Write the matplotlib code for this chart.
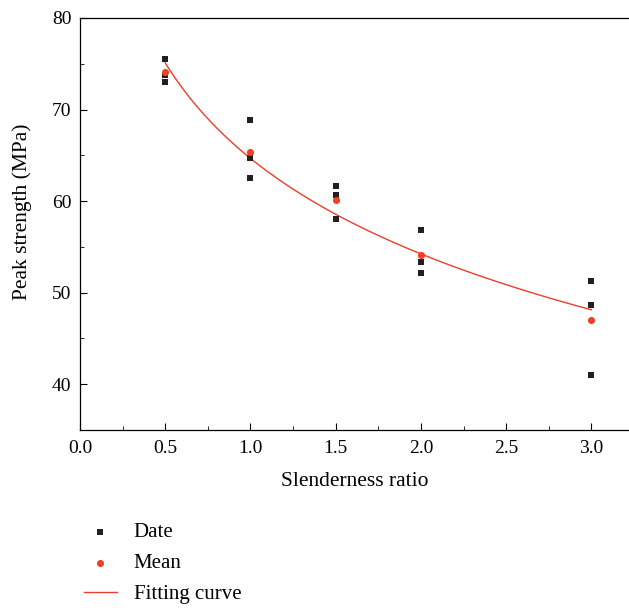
import numpy as np
import matplotlib.pyplot as plt
from matplotlib.ticker import MultipleLocator

plt.rcParams['font.family'] = ['Liberation Serif', 'DejaVu Serif']

# slenderness ratio and measured peak strength (three specimens each)
ratio = [0.5, 0.5, 0.5, 1.0, 1.0, 1.0, 1.5, 1.5, 1.5, 2.0, 2.0, 2.0, 3.0, 3.0, 3.0]
strength = [75.5, 73.8, 73.0, 68.9, 64.7, 62.5, 61.6, 60.7, 58.0,
            56.8, 53.3, 52.2, 51.3, 48.6, 41.0]

ratio_mean = [0.5, 1.0, 1.5, 2.0, 3.0]
strength_mean = [74.1, 65.4, 60.1, 54.1, 47.0]

# logarithmic fit y = a + b*ln(x)
b, a = np.polyfit(np.log(ratio_mean), strength_mean, 1)
xf = np.linspace(0.5, 3.0, 200)
yf = a + b * np.log(xf)

fig = plt.figure(figsize=(6.29, 6.08), dpi=100)
ax = fig.add_axes([0.127, 0.2928, 0.873, 0.6776])

ax.scatter(ratio, strength, marker='s', s=22, color='#231f20', label='Date', zorder=3, linewidths=0)
ax.scatter(ratio_mean, strength_mean, marker='o', s=26, color='#ee4023', label='Mean', zorder=4, linewidths=0)
ax.plot(xf, yf, color='#ee3d2a', lw=1.0, label='Fitting curve', zorder=2)

ax.set_xlim(0, 3.22)
ax.set_ylim(35, 80)
ax.xaxis.set_major_locator(MultipleLocator(0.5))
ax.xaxis.set_minor_locator(MultipleLocator(0.25))
ax.yaxis.set_major_locator(MultipleLocator(10))
ax.yaxis.set_minor_locator(MultipleLocator(5))
ax.xaxis.set_major_formatter(plt.FormatStrFormatter('%.1f'))

ax.tick_params(axis='both', which='both', direction='in', labelsize=14)
ax.tick_params(axis='x', which='both', pad=7)
ax.tick_params(axis='y', which='both', pad=6)
ax.tick_params(which='major', length=5)
ax.tick_params(which='minor', length=3)
ax.spines['right'].set_visible(False)
for s in ['left', 'bottom', 'top']:
    ax.spines[s].set_linewidth(0.9)

ax.set_xlabel('Slenderness ratio', fontsize=15.5, labelpad=11)
ax.set_ylabel('Peak strength (MPa)', fontsize=15.5, labelpad=10)
ax.yaxis.set_label_coords(-0.088, 0.53)

fig.legend(loc='upper left', bbox_to_anchor=(0.12, 0.154), frameon=False,
           fontsize=15, handlelength=1.6, handletextpad=0.8, labelspacing=0.55,
           borderaxespad=0)

fig.savefig('out.png', dpi=100)
